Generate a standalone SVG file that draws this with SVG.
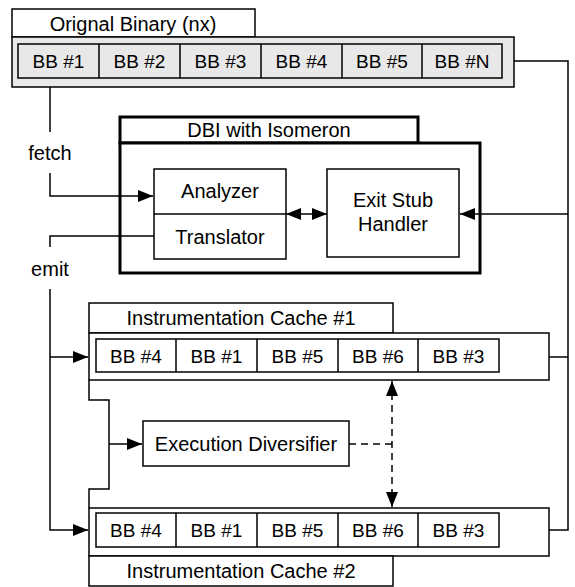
<svg xmlns="http://www.w3.org/2000/svg" width="575" height="587" viewBox="0 0 575 587">
<defs>
<marker id="ah" markerUnits="userSpaceOnUse" markerWidth="16" markerHeight="12" refX="15" refY="6" orient="auto-start-reverse">
<path d="M0,0 L15,6 L0,12 z" fill="#000"/>
</marker>
<style>
text{font-family:"Liberation Sans",Arial,sans-serif;font-size:20px;fill:#000;text-anchor:middle}
.bb{font-size:19px}
.box{fill:#fff;stroke:#000;stroke-width:1.5}
.gray{fill:#e8e8e8;stroke:#000;stroke-width:1.5}
.thick{fill:#fff;stroke:#000;stroke-width:3}
.ln{fill:none;stroke:#000;stroke-width:1.5}
.arr{fill:none;stroke:#000;stroke-width:1.5;marker-end:url(#ah)}
.dash{fill:none;stroke:#000;stroke-width:1.5;stroke-dasharray:7,5}
</style>
</defs>
<rect width="575" height="587" fill="#fff"/>
<g id="original-binary">
<rect class="box" x="12" y="9" width="243" height="28"/>
<text x="133" y="31">Orignal Binary (nx)</text>
<rect class="gray" x="12" y="37" width="502" height="50"/>
<rect class="gray" x="18" y="44" width="484" height="34"/>
<path class="ln" d="M99,44 V78 M180,44 V78 M261,44 V78 M342,44 V78 M422,44 V78"/>
<text class="bb" x="58.5" y="68">BB #1</text>
<text class="bb" x="139.5" y="68">BB #2</text>
<text class="bb" x="220.5" y="68">BB #3</text>
<text class="bb" x="301.5" y="68">BB #4</text>
<text class="bb" x="382" y="68">BB #5</text>
<text class="bb" x="462" y="68">BB #N</text>
</g>
<g id="fetch-label"><text x="50" y="160">fetch</text></g>
<g id="emit-label"><text x="50" y="276">emit</text></g>
<g id="dbi">
<rect class="thick" x="120" y="117" width="298" height="26"/>
<text x="269" y="137">DBI with Isomeron</text>
<rect class="thick" x="120" y="143" width="360" height="130"/>
</g>
<g id="analyzer-translator">
<rect class="box" x="154" y="169" width="132" height="90"/>
<path class="ln" d="M154,214 H286"/>
<text x="220" y="198">Analyzer</text>
<text x="220" y="244">Translator</text>
</g>
<g id="exit-stub-handler">
<rect class="box" x="327" y="169" width="132" height="88"/>
<text x="393" y="207">Exit Stub</text>
<text x="393" y="231">Handler</text>
</g>
<g id="cache1">
<rect class="box" x="89" y="303" width="304" height="30"/>
<text x="241" y="325">Instrumentation Cache #1</text>
<rect class="box" x="89" y="333" width="460" height="47"/>
<rect class="box" x="96" y="339" width="403" height="33"/>
<path class="ln" d="M176,339 V372 M257,339 V372 M338,339 V372 M418,339 V372"/>
<text class="bb" x="136" y="363">BB #4</text>
<text class="bb" x="216.5" y="363">BB #1</text>
<text class="bb" x="297.5" y="363">BB #5</text>
<text class="bb" x="378" y="363">BB #6</text>
<text class="bb" x="458.5" y="363">BB #3</text>
</g>
<g id="execution-diversifier">
<rect class="box" x="143" y="421" width="206" height="45"/>
<text x="246" y="451">Execution Diversifier</text>
</g>
<g id="cache2">
<rect class="box" x="89" y="508" width="460" height="48"/>
<rect class="box" x="96" y="513" width="403" height="34"/>
<path class="ln" d="M176,513 V547 M257,513 V547 M338,513 V547 M418,513 V547"/>
<text class="bb" x="136" y="537">BB #4</text>
<text class="bb" x="216.5" y="537">BB #1</text>
<text class="bb" x="297.5" y="537">BB #5</text>
<text class="bb" x="378" y="537">BB #6</text>
<text class="bb" x="458.5" y="537">BB #3</text>
<rect class="box" x="89" y="556" width="304" height="30"/>
<text x="241" y="578">Instrumentation Cache #2</text>
</g>
<g id="connectors">
<path class="ln" d="M50,87 V132"/>
<path class="arr" d="M50,173 V196 H153"/>
<path class="ln" d="M154,236 H50 V247"/>
<path class="arr" d="M50,289 V530 H88"/>
<path class="arr" d="M50,357 H88"/>
<path class="ln" d="M89,380 V400 H109 V489 H89 V508"/>
<path class="arr" d="M109,444 H142"/>
<path class="ln" d="M514,61 H568 V530 H549"/>
<path class="arr" d="M568,214 H460"/>
<path class="ln" d="M549,357 H568"/>
<path class="ln" d="M286,214 H327" marker-start="url(#ah)" marker-end="url(#ah)"/>
<path class="dash" d="M349,444 H392"/>
<path class="dash" d="M392,381 V507" marker-start="url(#ah)" marker-end="url(#ah)"/>
</g>
</svg>
